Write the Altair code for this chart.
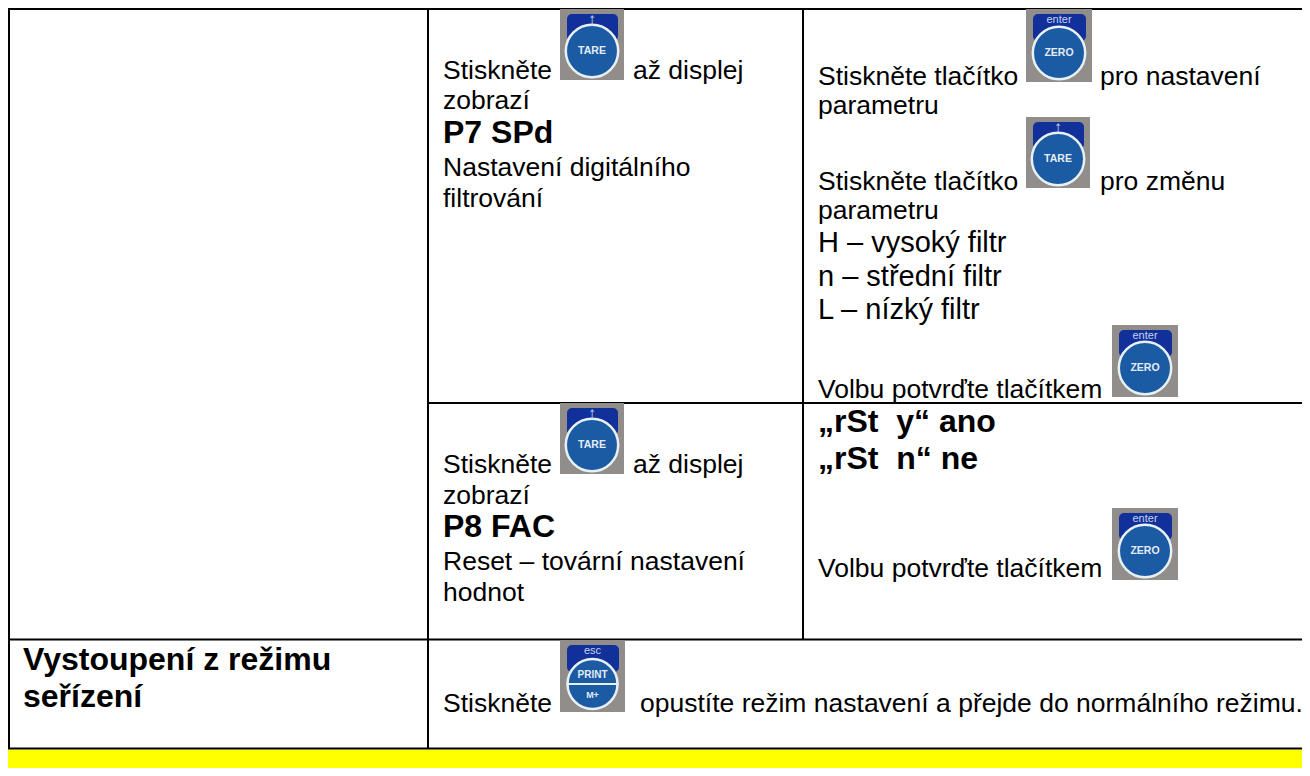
import altair as alt
import pandas as pd

FONT = "Liberation Sans"
X0, X1, Y0, Y1 = 8, 1302, 8, 768
BODY, BOLD, MID = 26.5, 32, 29

# text lines: content
texts = [
    "Strana 1", "Stiskněte", "až displej", "zobrazí", "P7 SPd", "Nastavení digitálního", "filtrování",
    "Stiskněte tlačítko", "pro nastavení", "parametru", "Stiskněte tlačítko", "pro změnu", "parametru",
    "H – vysoký filtr", "n – střední filtr", "L – nízký filtr", "Volbu potvrďte tlačítkem",
    "Stiskněte", "až displej", "zobrazí", "P8 FAC", "Reset – tovární nastavení", "hodnot",
    "„rSt\u00a0 y“ ano", "„rSt\u00a0 n“ ne", "Volbu potvrďte tlačítkem",
    "Vystoupení z režimu", "seřízení", "Stiskněte", "opustíte režim nastavení a přejde do normálního režimu.",
]
text_x = [1193, 443, 633, 443, 443, 443, 443,
          818, 1100, 818, 818, 1100, 818,
          818, 818, 818, 818,
          443, 633, 443, 443, 443, 443,
          818, 818, 818,
          23, 23, 443, 640]
text_y = [4, 79, 79, 109, 143, 176, 207,
          85, 85, 114, 190, 190, 219, 252, 286, 319, 398,
          473, 473, 504, 537, 570, 601,
          432, 469, 577,
          670, 707, 712, 712]
text_size = [BODY, BODY, BODY, BODY, BOLD, BODY, BODY,
             BODY, BODY, BODY, BODY, BODY, BODY, MID, MID, MID, BODY,
             BODY, BODY, BODY, BOLD, BODY, BODY, BOLD, BOLD, BODY,
             BOLD, BOLD, BODY, BODY]
text_bold = [0, 0, 0, 0, 1, 0, 0,
             0, 0, 0, 0, 0, 0, 0, 0, 0, 0,
             0, 0, 0, 1, 0, 0, 1, 1, 0,
             1, 1, 0, 0]

df_text = pd.DataFrame({"t": texts, "x": text_x, "y": text_y, "s": text_size,
                        "w": ["bold" if b else "normal" for b in text_bold]})

# table lines
line_x = [X0, 9, 428, 803, 428, X0, X0]
line_x2 = [X1, 9, 428, 803, X1, X1, X1]
line_y = [9, 8, 9, 9, 403, 639.5, 748.5]
line_y2 = [9, 749, 749, 639, 403, 639.5, 748.5]
df_lines = pd.DataFrame({"x": line_x, "x2": line_x2, "y": line_y, "y2": line_y2})

# buttons
btn_label = ["TARE", "ZERO", "TARE", "ZERO", "TARE", "ZERO", "PRINT"]
btn_top = ["↑", "enter", "↑", "enter", "↑", "enter", "esc"]
btn_top_size = [17, 11, 17, 11, 17, 11, 11]
btn_x = [560, 1026, 1026, 1112, 560, 1112, 560]
btn_y = [9, 9, 117, 325, 403, 508, 640]
btn_x2 = [624, 1092, 1090, 1178, 624, 1178, 625]
btn_y2 = [80, 82, 188, 397, 474, 580, 712]
df_btn = pd.DataFrame({"label": btn_label, "top": btn_top, "ts": btn_top_size,
                       "x": btn_x, "y": btn_y, "x2": btn_x2, "y2": btn_y2})
df_btn["cx"] = (df_btn.x + df_btn.x2) / 2
df_btn["cy"] = df_btn.y2 - 29
df_btn["ty"] = df_btn.y + 11
df_btn["rx"] = df_btn.x + 7
df_btn["rx2"] = df_btn.x2 - 6
df_btn["ry"] = df_btn.y + 5
df_btn["ry2"] = df_btn.y + 32

df_disc = df_btn[df_btn.label != "PRINT"]
df_print = df_btn[df_btn.label == "PRINT"].copy()
df_print["lx"] = df_print.cx - 26
df_print["lx2"] = df_print.cx + 26
df_print["ly"] = 684
df_print["py"] = 675
df_print["my"] = 695
df_print["sub"] = "M+"
df_print["cy"] = 684

xs = alt.Scale(domain=[X0, X1], range=[0, X1 - X0])
ys = alt.Scale(domain=[Y0, Y1], range=[0, Y1 - Y0])
X = lambda f: alt.X(f, type="quantitative", scale=xs, axis=None)
Y = lambda f: alt.Y(f, type="quantitative", scale=ys, axis=None)
X2 = lambda f: alt.X2(f)
Y2 = lambda f: alt.Y2(f)

yellow = alt.Chart(pd.DataFrame({"x": [X0], "x2": [X1], "y": [749.5], "y2": [Y1]})).mark_rect(color="#ffff00").encode(
    x=X("x"), x2=X2("x2"), y=Y("y"), y2=Y2("y2"))
lines = alt.Chart(df_lines).mark_rule(color="#000000", strokeWidth=2).encode(
    x=X("x"), x2=X2("x2"), y=Y("y"), y2=Y2("y2"))
bb = alt.Chart(df_btn)
grey = bb.mark_rect(color="#908d8b").encode(x=X("x"), x2=X2("x2"), y=Y("y"), y2=Y2("y2"))
navy = bb.mark_rect(color="#12309a", cornerRadius=5).encode(x=X("rx"), x2=X2("rx2"), y=Y("ry"), y2=Y2("ry2"))
disc = alt.Chart(df_disc).mark_point(filled=True, fill="#1a5ba4", stroke="#e8f0f4", strokeWidth=2.5, opacity=1,
                                     size=2750, shape="circle").encode(x=X("cx"), y=Y("cy"))
lab = alt.Chart(df_disc).mark_text(color="#e4ecf6", font=FONT, fontWeight="bold", fontSize=10.5).encode(
    x=X("cx"), y=Y("cy"), text="label:N")
top = bb.mark_text(color="#c4d2ee", font=FONT).encode(
    x=X("cx"), y=Y("ty"), text="top:N", size=alt.Size("ts:Q", scale=None, legend=None))

pdisc = alt.Chart(df_print).mark_point(filled=True, fill="#1a5ba4", stroke="#e8f0f4", strokeWidth=2.5, opacity=1,
                                       size=2500, shape="circle").encode(x=X("cx"), y=Y("cy"))
pline = alt.Chart(df_print).mark_rule(color="#e8f0f4", strokeWidth=2).encode(x=X("lx"), x2=X2("lx2"), y=Y("ly"))
ptext = alt.Chart(df_print).mark_text(color="#e4ecf6", font=FONT, fontWeight="bold", fontSize=10).encode(
    x=X("cx"), y=Y("py"), text="label:N")
mtext = alt.Chart(df_print).mark_text(color="#e4ecf6", font=FONT, fontWeight="bold", fontSize=9).encode(
    x=X("cx"), y=Y("my"), text="sub:N")


def text_layer(weight):
    return alt.Chart(df_text[df_text.w == weight]).mark_text(
        align="left", baseline="alphabetic", color="#000000", font=FONT, fontWeight=weight
    ).encode(x=X("x"), y=Y("y"), text="t:N", size=alt.Size("s:Q", scale=None, legend=None))


chart = alt.layer(yellow, lines, grey, navy, disc, lab, top, pdisc, pline, ptext, mtext,
                  text_layer("normal"), text_layer("bold")).properties(
    width=X1 - X0, height=Y1 - Y0, padding=0, autosize=alt.AutoSizeParams(type="none"),
    background="#ffffff",
).configure_view(stroke=None)

chart.save("out.html", embed_options={"renderer": "svg", "actions": False})
